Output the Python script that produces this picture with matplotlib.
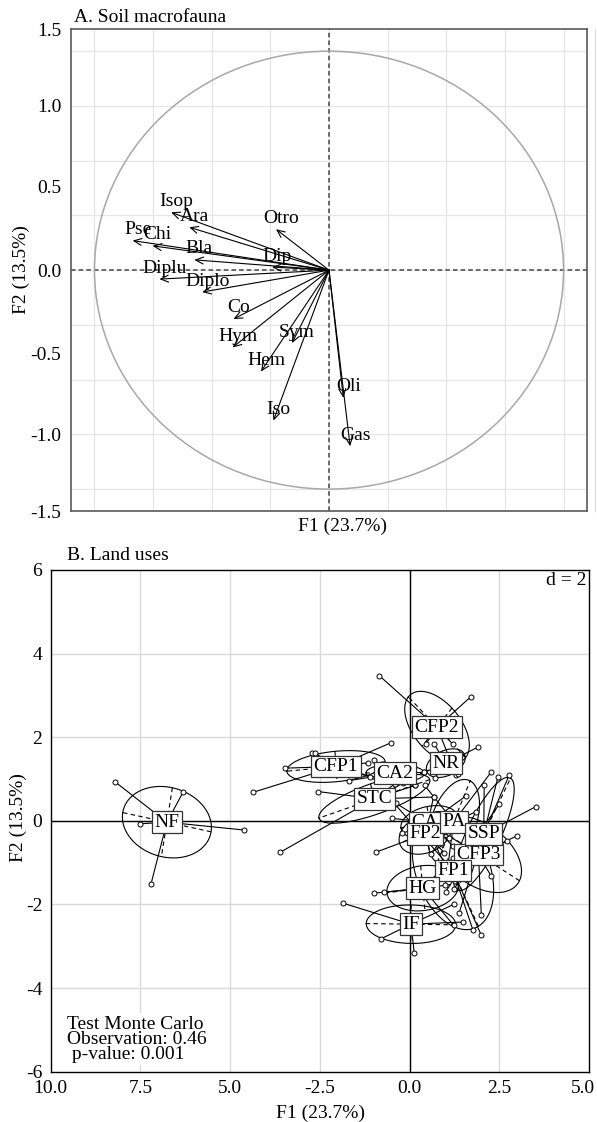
"""Two-panel PCA figure: correlation circle of soil macrofauna groups (A)
and land-use classes in the F1/F2 plane with stars and ellipses (B).
"""

import matplotlib

matplotlib.use("Agg")
import matplotlib.pyplot as plt
import numpy as np
from matplotlib.lines import Line2D
from matplotlib.patches import Circle
from matplotlib.transforms import ScaledTranslation

plt.rcParams["font.family"] = ["Liberation Serif", "DejaVu Serif"]
plt.rcParams["font.size"] = 14
plt.rcParams["axes.unicode_minus"] = False

# ---- panel A: loadings of macrofauna groups on F1 / F2 ----
FAUNA = ["Isop", "Ara", "Otro", "Pse", "Chi", "Bla", "Dip", "Diplu",
         "Diplo", "Co", "Hym", "Sym", "Hem", "Iso", "Oli", "Gas"]
F1_LOAD = [-0.673, -0.596, -0.226, -0.837, -0.752, -0.574, -0.243, -0.723,
           -0.541, -0.407, -0.411, -0.158, -0.290, -0.237, 0.061, 0.090]
F2_LOAD = [0.264, 0.196, 0.187, 0.135, 0.111, 0.047, 0.014, -0.041,
           -0.100, -0.223, -0.353, -0.333, -0.463, -0.687, -0.583, -0.804]
A_YTICK_LABELS = ["-1.5", "-1.0", "-0.5", "0.0", "0.5", "1.0", "1.5"]

# ---- panel B: site scores grouped by land use ----
LAND_USES = ["CA1", "CA2", "CFP1", "CFP2", "CFP3", "FP1", "FP2",
             "HG", "IF", "NF", "NR", "PA", "SSP", "STC"]
SITE_F1 = [
    [-0.49, 1.58, 0.67, 1.20, -0.20],
    [-1.70, -1.00, 0.41, 0.16, 0.13],
    [-4.37, -3.48, -2.73, -2.63, -0.51, -1.16, -1.10, -0.40],
    [-0.84, 1.71, 0.45, 1.21, 1.30],
    [2.99, 2.71, 2.28, 2.00, -0.38],
    [1.77, 2.00, 0.30, 2.50, -0.52],
    [-0.94, 0.67, 1.10, 0.40, 0.97],
    [-0.99, -0.71, 1.23, 1.20, 1.12],
    [-1.85, -0.79, 0.13, 1.48, 1.23],
    [-8.20, -6.30, -7.50, -4.60, -7.20],
    [0.69, 1.90, 0.41, 0.70, 1.35],
    [1.86, 0.42, 2.27, 0.60, 1.00],
    [2.08, 2.78, 3.52, 2.46, 1.25, 1.01, 1.38],
    [-3.60, -2.54, 0.69, -0.19, 0.16, -0.40],
]
SITE_F2 = [
    [0.06, 0.60, 0.05, -0.60, -0.30],
    [0.96, 1.45, 1.16, 0.85, 1.28],
    [0.68, 1.26, 1.63, 1.62, 1.87, 1.39, 1.05, 0.90],
    [3.47, 2.97, 1.83, 1.83, 1.10],
    [-0.36, -0.49, -1.33, -2.25, 0.42],
    [-2.62, -2.74, -1.50, 0.40, 0.51],
    [-0.75, 0.57, -0.41, -0.20, -0.76],
    [-1.73, -1.71, -2.50, -0.90, -1.21],
    [-1.97, -2.82, -3.15, -2.42, -2.00],
    [0.93, 0.70, -0.07, -0.22, -1.50],
    [1.83, 1.76, 1.16, 1.02, 1.13],
    [0.22, 0.85, 1.16, -0.80, -1.53],
    [0.85, 1.10, 0.34, 1.04, -1.63, -1.69, -2.21],
    [-0.75, 0.70, 0.57, 0.90, 0.85, 0.89],
]
B_XTICK_LABELS = ["10.0", "7.5", "5.0", "-2.5", "0.0", "2.5", "5.0"]
MONTE_CARLO = "Test Monte Carlo\nObservation: 0.46\n p-value: 0.001"

W, H = 597, 1122
CELLIPSE = 1.0


def fig_xy(px, py):
    return px / W, 1 - py / H


def panel_a(fig):
    ax = fig.add_axes([71 / W, 1 - 511 / H, 516 / W, 481.7 / H])
    ax.set_xlim(-1.1, 1.1)
    ax.set_ylim(-1.1, 1.1)
    grid = np.arange(-1.0, 1.01, 0.25)
    for g in grid:
        ax.axvline(g, color="#e6e6e6", lw=0.9, zorder=0)
        ax.axhline(g, color="#e6e6e6", lw=0.9, zorder=0)
    ax.axvline(0, color="#444444", lw=1.1, ls=(0, (3, 2)), zorder=1)
    ax.axhline(0, color="#444444", lw=1.1, ls=(0, (3, 2)), zorder=1)
    ax.add_patch(Circle((0, 0), 1.0, fill=False, ec="#a8a8a8", lw=1.1, zorder=2))

    for name, x, y in zip(FAUNA, F1_LOAD, F2_LOAD):
        ax.annotate("", xy=(x, y), xytext=(0, 0),
                    arrowprops=dict(arrowstyle="->,head_length=0.55,head_width=0.25",
                                    lw=0.8, color="black", shrinkA=0, shrinkB=0,
                                    mutation_scale=10), zorder=3)
        ax.annotate(name, xy=(x, y), xytext=(5, 11), textcoords="offset pixels",
                    ha="center", va="center", fontsize=14, zorder=4)

    ax.set_xticks([])
    ax.set_yticks([-1.1, -0.75, -0.38, 0, 0.38, 0.75, 1.1], A_YTICK_LABELS)
    ax.tick_params(length=0, pad=7)
    for sp in ax.spines.values():
        sp.set_color("#5a5a5a")
        sp.set_linewidth(1.2)

    fig.text(*fig_xy(73.5, 17.3), "A. Soil macrofauna", ha="left", va="center")
    fig.text(*fig_xy(342.7, 526.7), "F1 (23.7%)", ha="center", va="center")
    fig.text(*fig_xy(21.7, 270), "F2 (13.5%)", ha="center", va="center",
             rotation=90)
    fig.add_artist(Line2D([595 / W, 595 / W], [1 - 29 / H, 1 - 511 / H],
                          color="#dddddd", lw=1.0))


def draw_class(ax, name, xs, ys):
    xs, ys = np.asarray(xs), np.asarray(ys)
    cx, cy = xs.mean(), ys.mean()
    cov = np.cov(np.vstack([xs, ys]), bias=True)
    vals, vecs = np.linalg.eigh(cov)
    vals = np.clip(vals, 0, None)
    t = np.linspace(0, 2 * np.pi, 120)
    a = CELLIPSE * np.sqrt(vals[1]) * vecs[:, 1]
    b = CELLIPSE * np.sqrt(vals[0]) * vecs[:, 0]
    ex = cx + a[0] * np.cos(t) + b[0] * np.sin(t)
    ey = cy + a[1] * np.cos(t) + b[1] * np.sin(t)
    ax.plot(ex, ey, color="black", lw=0.8, zorder=3)
    for v in (a, b):
        ax.plot([cx - v[0], cx + v[0]], [cy - v[1], cy + v[1]],
                color="black", lw=0.8, ls=(0, (4, 3)), zorder=3)
    for x, y in zip(xs, ys):
        ax.plot([cx, x], [cy, y], color="black", lw=0.8, zorder=3)
    ax.plot(xs, ys, "o", ms=3.6, mfc="white", mec="black", mew=0.7, zorder=4)
    ax.text(cx, cy, name, ha="center", va="center", fontsize=14, zorder=6,
            bbox=dict(boxstyle="square,pad=0.12", fc="white", ec="#333333", lw=0.9))


def panel_b(fig):
    ax = fig.add_axes([50.6 / W, 1 - 1071.7 / H, 538.4 / W, 501.7 / H])
    ax.set_xlim(-10, 5)
    ax.set_ylim(-6, 6)
    xt = np.arange(-10, 5.1, 2.5)
    yt = np.arange(-6, 6.1, 2)
    for g in xt[1:-1]:
        ax.axvline(g, color="#d9d9d9", lw=1.0, zorder=0)
    for g in yt[1:-1]:
        ax.axhline(g, color="#d9d9d9", lw=1.0, zorder=0)
    ax.axvline(0, color="black", lw=1.0, zorder=1)
    ax.axhline(0, color="black", lw=1.0, zorder=1)

    for name, xs, ys in zip(LAND_USES, SITE_F1, SITE_F2):
        draw_class(ax, name, xs, ys)

    ax.text(0.996, 0.996, "d = 2", transform=ax.transAxes, ha="right",
            va="top", fontsize=14, zorder=7)
    ax.text(0.03, 0.065, MONTE_CARLO, transform=ax.transAxes, ha="left",
            va="center", fontsize=14, linespacing=0.85, zorder=7,
            bbox=dict(fc="white", ec="none", pad=2))

    ax.set_xticks(xt, B_XTICK_LABELS)
    ax.set_yticks(yt)
    ax.tick_params(length=0, pad=6)
    last = ax.get_xticklabels()[-1]
    last.set_transform(last.get_transform()
                       + ScaledTranslation(-6 / 100, 0, fig.dpi_scale_trans))
    for sp in ax.spines.values():
        sp.set_color("black")
        sp.set_linewidth(1.0)

    fig.text(*fig_xy(67, 555), "B. Land uses", ha="left", va="center")
    fig.text(*fig_xy(320.8, 1113), "F1 (23.7%)", ha="center", va="center")
    fig.text(*fig_xy(18.3, 818), "F2 (13.5%)", ha="center", va="center",
             rotation=90)


def main():
    fig = plt.figure(figsize=(W / 100, H / 100), dpi=100)
    panel_a(fig)
    panel_b(fig)
    fig.savefig("out.png", dpi=100)


if __name__ == "__main__":
    main()
